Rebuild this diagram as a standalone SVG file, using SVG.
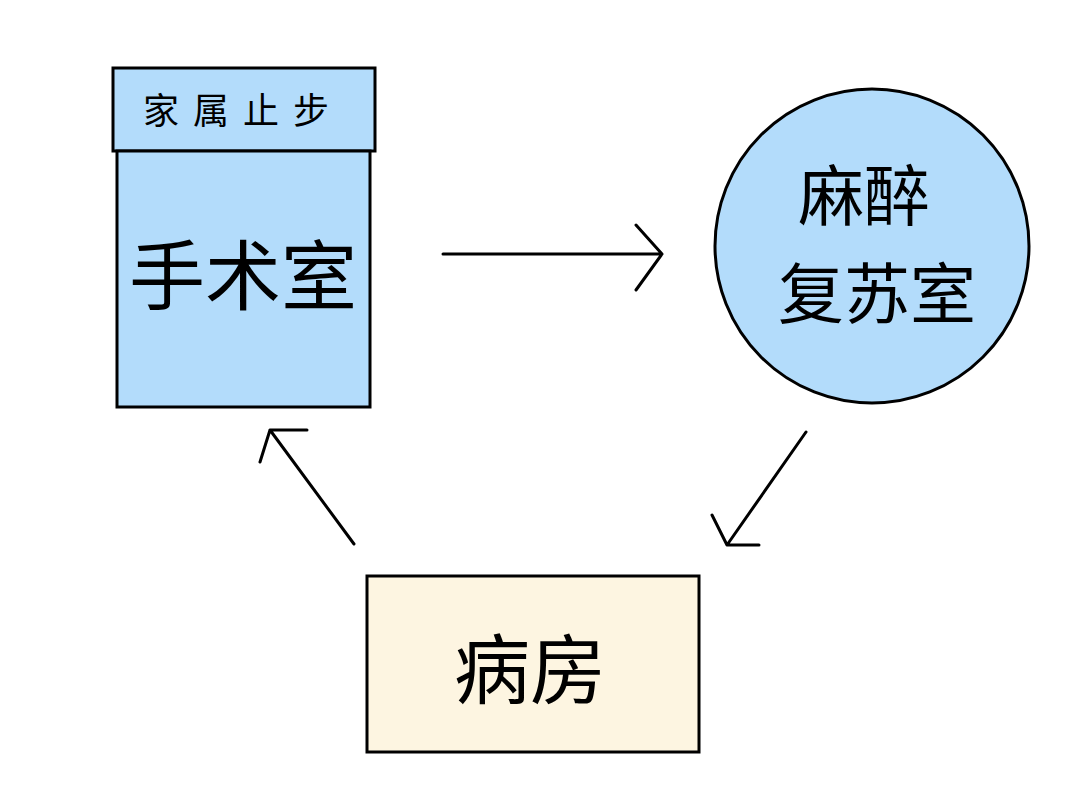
<svg xmlns="http://www.w3.org/2000/svg" width="1080" height="810" viewBox="0 0 1080 810">
<style>
.n{stroke:#000;stroke-width:3}
.t{font-family:"Noto Sans CJK SC",sans-serif;fill:#000;text-anchor:middle}
.c{stroke:#000;stroke-width:3;fill:none;stroke-linecap:round;stroke-linejoin:round}
</style>
<rect width="1080" height="810" fill="#fff"/>
<g id="sign"><rect class="n" x="113" y="68" width="262" height="83" fill="#b3dcfb"/>
<text class="t" x="243" y="124" font-size="36" letter-spacing="14">家属止步</text></g>
<g id="or"><rect class="n" x="117" y="151" width="253" height="256" fill="#b3dcfb"/>
<text class="t" x="243" y="304" font-size="76">手术室</text></g>
<g id="pacu"><circle class="n" cx="872" cy="246" r="157" fill="#b3dcfb"/>
<text class="t" x="864" y="220" font-size="66">麻醉</text>
<text class="t" x="877" y="318" font-size="66">复苏室</text></g>
<g id="ward"><rect class="n" x="367" y="576" width="332" height="176" fill="#fdf5e1"/>
<text class="t" x="530" y="698" font-size="76">病房</text></g>
<g id="connectors">
<path class="c" d="M443 254H662M636 225L662 254L636 290"/>
<path class="c" d="M806 432L727 545M712 515L727 545L759 545"/>
<path class="c" d="M354 544L270 430M260 462L270 430L307 430"/>
</g>
</svg>
